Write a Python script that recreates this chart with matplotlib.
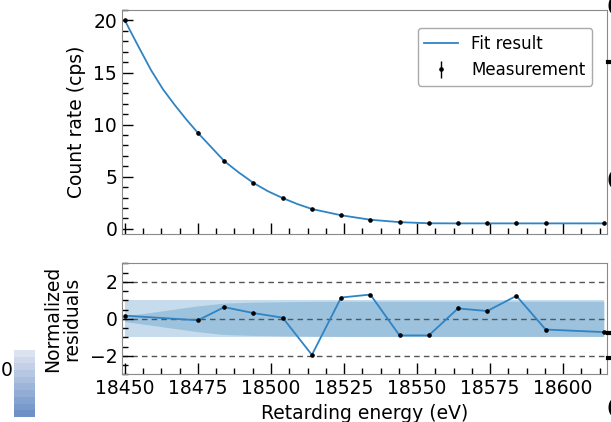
import numpy as np
import matplotlib
matplotlib.use("Agg")
import matplotlib.pyplot as plt
from matplotlib.ticker import MultipleLocator, AutoMinorLocator
from matplotlib.colors import LinearSegmentedColormap

# measured points
energy = [18450, 18475, 18484, 18494, 18504, 18514, 18524, 18534, 18544,
          18554, 18564, 18574, 18584, 18594, 18614]
rate = [20.0, 9.23, 6.48, 4.42, 2.95, 1.90, 1.29, 0.87, 0.64,
        0.53, 0.52, 0.52, 0.52, 0.52, 0.52]
rate_err = [0.15, 0.12, 0.1, 0.09, 0.08, 0.07, 0.06, 0.05, 0.05,
            0.04, 0.04, 0.04, 0.04, 0.04, 0.04]

# fit curve
fit_energy = [18450, 18452, 18455, 18459, 18463, 18467, 18471, 18475, 18480,
              18484, 18489, 18494, 18499, 18504, 18509, 18514, 18524, 18534,
              18544, 18554, 18564, 18574, 18584, 18594, 18614]
fit_rate = [20.0, 18.9, 17.3, 15.2, 13.4, 11.9, 10.5, 9.2, 7.7,
            6.5, 5.4, 4.4, 3.6, 2.95, 2.38, 1.9, 1.3, 0.87,
            0.64, 0.53, 0.52, 0.52, 0.52, 0.52, 0.52]

# normalized residuals
residuals = [0.17, -0.08, 0.63, 0.31, 0.06, -1.95, 1.15, 1.31, -0.9,
             -0.9, 0.56, 0.42, 1.24, -0.58, -0.72]
# half width of the inner uncertainty band
band_sigma = [0.15, 0.7, 0.85, 0.9, 0.92, 0.94, 0.95, 0.95, 0.95,
              0.95, 0.95, 0.95, 0.95, 0.95, 0.95]

cbar_levels = [0, 1, 2, 3, 4, 5, 6, 7, 8, 9]

blue = '#2f84c4'
spine_gray = '#8a8a8a'

plt.rcParams['font.family'] = ['DejaVu Sans']
fig = plt.figure(figsize=(6.11, 4.22), dpi=100)
W, H = 611, 422


def px_axes(l, t, r, b):
    return fig.add_axes([l / W, 1 - b / H, (r - l) / W, (b - t) / H])


ax = px_axes(122, 10, 607, 233.5)
axr = px_axes(122, 263.3, 607, 374.3)
axr.sharex(ax)

ax.plot(fit_energy, fit_rate, color=blue, lw=1.3, label='Fit result', zorder=2)
ax.errorbar(energy, rate, yerr=rate_err, fmt='o', color='black', ms=2.3,
            elinewidth=1, capsize=0, label='Measurement', zorder=3)
ax.set_ylim(-0.45, 21)
ax.set_ylabel('Count rate (cps)', fontsize=13.5)
ax.yaxis.set_major_locator(MultipleLocator(5))
ax.yaxis.set_minor_locator(AutoMinorLocator(5))
ax.tick_params(labelbottom=False)
leg = ax.legend(loc='upper right', bbox_to_anchor=(0.969, 0.919), borderaxespad=0,
                fontsize=12, frameon=True, fancybox=True, framealpha=1)
leg.get_frame().set_edgecolor('#aaaaaa')

# residual panel
ones = np.ones(len(energy))
axr.fill_between(energy, -ones, ones, color='#1f77b4', alpha=0.25, lw=0)
axr.fill_between(energy, -np.array(band_sigma), band_sigma, color='#1f77b4',
                 alpha=0.25, lw=0)
for lvl in (-2, 0, 2):
    axr.axhline(lvl, color='#555555', ls='--', lw=1, dashes=(4, 3), zorder=1)
axr.plot(energy, residuals, color=blue, lw=1.3, zorder=2)
axr.plot(energy, residuals, 'o', color='black', ms=2.3, zorder=3)
axr.set_ylim(-3, 3)
axr.yaxis.set_major_locator(MultipleLocator(2))
axr.yaxis.set_minor_locator(AutoMinorLocator(4))
axr.set_ylabel('Normalized\nresiduals', fontsize=13.5, linespacing=1.0)
axr.set_xlabel('Retarding energy (eV)', fontsize=13.5)
axr.set_xlim(18449, 18615)
axr.xaxis.set_major_locator(MultipleLocator(25))
axr.xaxis.set_minor_locator(AutoMinorLocator(4))

for a in (ax, axr):
    for s in a.spines.values():
        s.set_color(spine_gray)
    a.tick_params(which='both', direction='in', color='black', labelsize=13.5,
                  top=False, right=False)
    a.tick_params(which='major', length=8, width=1)
    a.tick_params(which='minor', length=4, width=1)

ax.yaxis.set_label_coords(-0.075, 0.5)
axr.yaxis.set_label_coords(-0.085, 0.5)

# fragment of a neighbouring colorbar on the left
cax = px_axes(14, 350, 35, 417)
cmap = LinearSegmentedColormap.from_list('frag', ['#dbe2f0', '#6e92c8'])
cax.imshow(np.array(cbar_levels)[:, None], aspect='auto', cmap=cmap,
           interpolation='nearest')
cax.axis('off')
fig.text(0.5 / W, 1 - 370 / H, '0', fontsize=13.5, va='center', ha='left')

# fragments of a neighbouring panel on the right
for yy in (8, 182, 410):
    fig.text(606 / W, 1 - yy / H, 'O', fontsize=20, va='center', ha='left')
for yy in (62, 333, 358):
    fig.add_artist(plt.Line2D([608 / W, 1], [1 - yy / H] * 2, color='black', lw=3))

fig.savefig('out.png', dpi=100)
